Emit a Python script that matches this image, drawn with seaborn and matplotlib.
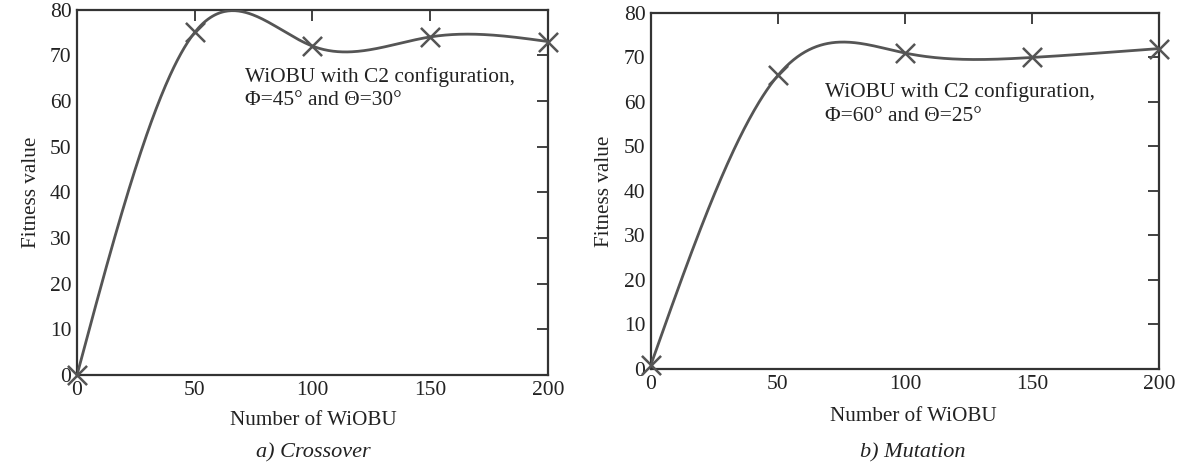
import numpy as np
import pandas as pd
import matplotlib
matplotlib.use("Agg")
import matplotlib.pyplot as plt
import seaborn as sns

# ---- data ----
wiobu = [0, 50, 100, 150, 200]
fitness_crossover = [0, 75, 72, 74, 73]
fitness_mutation = [1, 66, 71, 70, 72]
x_ticks = [0, 50, 100, 150, 200]
y_ticks = [0, 10, 20, 30, 40, 50, 60, 70, 80]
annot_crossover = "WiOBU with C2 configuration,\nΦ=45° and Θ=30°"
annot_mutation = "WiOBU with C2 configuration,\nΦ=60° and Θ=25°"
sub_crossover = "a) Crossover"
sub_mutation = "b) Mutation"

sns.set_theme(style="white")
plt.rcParams['font.family'] = ['Liberation Serif', 'DejaVu Serif']


def natural_spline(x, y, n=400):
    x = np.asarray(x, float)
    y = np.asarray(y, float)
    k = len(x)
    h = np.diff(x)
    A = np.zeros((k, k))
    b = np.zeros(k)
    A[0, 0] = 1
    A[-1, -1] = 1
    for i in range(1, k - 1):
        A[i, i - 1] = h[i - 1]
        A[i, i] = 2 * (h[i - 1] + h[i])
        A[i, i + 1] = h[i]
        b[i] = 6 * ((y[i + 1] - y[i]) / h[i] - (y[i] - y[i - 1]) / h[i - 1])
    M = np.linalg.solve(A, b)
    xs = np.linspace(x[0], x[-1], n)
    idx = np.clip(np.searchsorted(x, xs) - 1, 0, k - 2)
    x0, x1 = x[idx], x[idx + 1]
    hh = x1 - x0
    ys = (M[idx] * (x1 - xs) ** 3 / (6 * hh) + M[idx + 1] * (xs - x0) ** 3 / (6 * hh)
          + (y[idx] / hh - M[idx] * hh / 6) * (x1 - xs)
          + (y[idx + 1] / hh - M[idx + 1] * hh / 6) * (xs - x0))
    return xs, ys


fig = plt.figure(figsize=(11.83, 4.65), dpi=100)
ax1 = fig.add_axes([0.0651, 0.1935, 0.398, 0.786])
ax2 = fig.add_axes([0.5503, 0.2065, 0.4294, 0.7656])

line_col = "#555555"
spine_col = "#333333"
text_col = "#222222"

panels = [
    (ax1, fitness_crossover, annot_crossover, sub_crossover, (71.5, 67.5), 6, 8, 0.501),
    (ax2, fitness_mutation, annot_mutation, sub_mutation, (68.5, 64.5), 7, 10, 0.516),
]

for ax, vals, annot, sub, pos, ylp, xlp, xc in panels:
    xs, ys = natural_spline(wiobu, vals)
    sns.lineplot(x=xs, y=ys, ax=ax, color=line_col, linewidth=2, zorder=3)
    sns.scatterplot(x=wiobu, y=vals, ax=ax, marker="x", s=190, color=line_col,
                    linewidth=1.8, zorder=4, clip_on=False)
    ax.set_xlim(0, 200)
    ax.set_ylim(0, 80)
    ax.set_xticks(x_ticks)
    ax.set_yticks(y_ticks)
    ax.tick_params(direction="in", length=8, width=1.3, color=spine_col,
                   top=True, right=True, labelsize=15.5, labelcolor=text_col, pad=4)
    for s in ax.spines.values():
        s.set_color(spine_col)
        s.set_linewidth(1.6)
    ax.set_xlabel("Number of WiOBU", fontsize=15.2, color=text_col, labelpad=xlp)
    ax.xaxis.label.set_x(xc)
    ax.set_ylabel("Fitness value", fontsize=15.2, color=text_col, labelpad=ylp)
    ax.text(pos[0], pos[1], annot, fontsize=15.4, color=text_col, va="top",
            ha="left", linespacing=1.35)
    bb = ax.get_position()
    fig.text(bb.x0 + xc * bb.width, 1 - 457 / 465, sub, fontsize=16, style="italic",
             ha="center", va="baseline", color=text_col)
    ax.set_facecolor("white")
    ax.grid(False)

fig.savefig("out.png", dpi=100, facecolor="white")
